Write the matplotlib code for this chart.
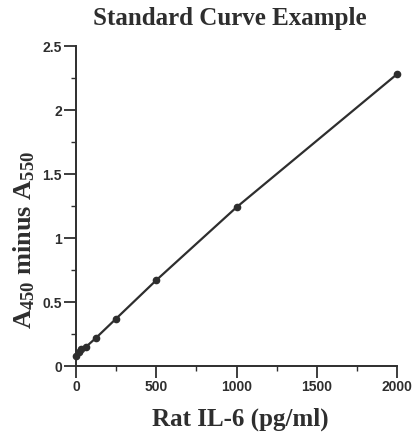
import matplotlib
matplotlib.use("Agg")
import matplotlib.pyplot as plt
from matplotlib.ticker import MultipleLocator

# Standard curve data
conc = [0, 15.6, 31.25, 62.5, 125, 250, 500, 1000, 2000]
absorbance = [0.08, 0.11, 0.13, 0.15, 0.22, 0.37, 0.67, 1.24, 2.28]

x_ticks = [0, 500, 1000, 1500, 2000]
y_ticks = [0, 0.5, 1, 1.5, 2, 2.5]
y_tick_labels = ["0", "0.5", "1", "1.5", "2", "2.5"]

plt.rcParams["mathtext.default"] = "regular"

W, H = 413, 433
fig = plt.figure(figsize=(W / 100, H / 100), dpi=100)
# axes box in pixels: x 76..397, y 46..366
ax = fig.add_axes([76 / W, 1 - 366 / H, (397 - 76) / W, (366 - 46) / H])

ink = "#2e2e2e"
ax.plot(conc, absorbance, color=ink, linewidth=1.6, marker="o",
        markersize=4.5, markerfacecolor=ink, markeredgecolor=ink, clip_on=False)

ax.set_xlim(0, 2000)
ax.set_ylim(0, 2.5)
ax.set_xticks(x_ticks)
ax.set_yticks(y_ticks)
ax.set_yticklabels(y_tick_labels)
ax.xaxis.set_minor_locator(MultipleLocator(250))
ax.yaxis.set_minor_locator(MultipleLocator(0.25))

for side in ("top", "right"):
    ax.spines[side].set_visible(False)
for side in ("left", "bottom"):
    ax.spines[side].set_color(ink)
    ax.spines[side].set_linewidth(1.4)

ax.tick_params(which="major", direction="out", length=8.5, width=1.3,
               color=ink, labelcolor=ink, labelsize=10, pad=1.5)
ax.tick_params(which="minor", direction="out", length=3.5, width=1.0, color=ink)
for lbl in ax.get_xticklabels() + ax.get_yticklabels():
    lbl.set_family("Liberation Sans")
    lbl.set_fontweight("bold")

serif = dict(family="Liberation Serif", fontweight="bold", color=ink)
fig.text(230 / W, 1 - 19 / H, "Standard Curve Example", fontsize=18,
         ha="center", va="center", **serif)
fig.text(240 / W, 1 - 419 / H, "Rat IL-6 (pg/ml)", fontsize=18,
         ha="center", va="center", **serif)
fig.text(24 / W, 1 - 240 / H, "A$_{450}$ minus A$_{550}$", fontsize=19,
         ha="center", va="center", rotation=90, **serif)

fig.savefig("out.png", dpi=100)
